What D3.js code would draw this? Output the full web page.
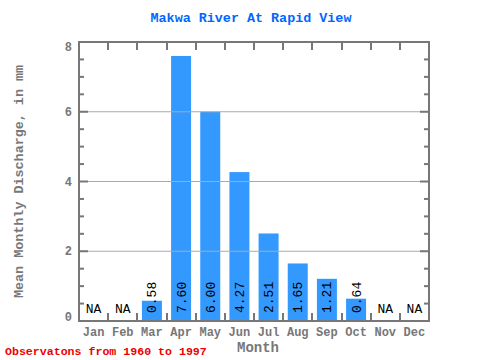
<!DOCTYPE html>
<html><head><meta charset="utf-8">
<script src="https://cdn.jsdelivr.net/npm/d3@7"></script>
<style>body{margin:0;background:#fff}svg{display:block}</style>
</head><body>
<svg id="c" width="480" height="360"></svg>
<script>
const months = ["Jan","Feb","Mar","Apr","May","Jun","Jul","Aug","Sep","Oct","Nov","Dec"];
const values = [null,null,0.58,7.60,6.00,4.27,2.51,1.65,1.21,0.64,null,null];
const labels = ["NA","NA","0.58","7.60","6.00","4.27","2.51","1.65","1.21","0.64","NA","NA"];
const yTicks = [0,2,4,6,8];
const title = "Makwa River At Rapid View";
const footer = "Observatons from 1960 to 1997";

const svg = d3.select("#c");
const L = 79, R = 429, T = 42, B = 321;
const font = "'Liberation Mono','DejaVu Sans Mono',monospace";
const x = d3.scaleBand().domain(months).range([L, R]);
const y = d3.scaleLinear().domain([0, 8]).range([B, T]);
const gray = "#777";

// bars
svg.append("g").selectAll("rect").data(months.map((m,i)=>({m,v:values[i]})).filter(d=>d.v!==null))
  .enter().append("rect")
  .attr("x", d => x(d.m) + x.bandwidth()/2 - 10)
  .attr("width", 20)
  .attr("y", d => y(d.v))
  .attr("height", d => B - y(d.v))
  .attr("fill", "#3399ff");

// gridlines
svg.append("g").selectAll("line").data(yTicks.filter(t => t > 0 && t < 8)).enter().append("line")
  .attr("x1", L).attr("x2", R).attr("y1", d => y(d)).attr("y2", d => y(d))
  .attr("stroke", "#aaa").attr("stroke-width", 1);

// minor/major ticks on y (left & right, inward)
const minor = d3.range(0, 8.01, 0.5);
const tg = svg.append("g").attr("stroke", gray).attr("stroke-width", 2);
minor.forEach(t => {
  const len = (t % 2 === 0) ? 9 : 5;
  tg.append("line").attr("x1", L).attr("x2", L + len).attr("y1", y(t)).attr("y2", y(t));
  tg.append("line").attr("x1", R).attr("x2", R - len).attr("y1", y(t)).attr("y2", y(t));
});
// x ticks at month boundaries (top & bottom inward)
months.slice(1).forEach(m => {
  const xx = Math.round(x(m));
  tg.append("line").attr("x1", xx).attr("x2", xx).attr("y1", T).attr("y2", T + 8);
  tg.append("line").attr("x1", xx).attr("x2", xx).attr("y1", B).attr("y2", B - 8);
});
// frame
svg.append("rect").attr("x", L).attr("y", T).attr("width", R - L).attr("height", B - T)
  .attr("fill", "none").attr("stroke", gray).attr("stroke-width", 2);

// y tick labels
svg.append("g").selectAll("text").data(yTicks).enter().append("text")
  .attr("x", 72).attr("y", d => y(d) + 4 + (d === 8 ? 5 : d === 0 ? -4 : 0)).attr("text-anchor", "end")
  .attr("font-family", font).attr("font-size", 12).attr("font-weight", "bold")
  .attr("fill", gray).text(d => d);

// x tick labels
svg.append("g").selectAll("text").data(months).enter().append("text")
  .attr("x", d => x(d) + x.bandwidth()/2).attr("y", 336).attr("text-anchor", "middle")
  .attr("font-family", font).attr("font-size", 12).attr("font-weight", "bold")
  .attr("fill", gray).text(d => d);

// value labels
months.forEach((m, i) => {
  const cx = x(m) + x.bandwidth()/2;
  if (values[i] === null) {
    svg.append("text").attr("x", cx).attr("y", 313).attr("text-anchor", "middle")
      .attr("font-family", font).attr("font-size", 13).attr("fill", "#000").text(labels[i]);
  } else {
    svg.append("text").attr("transform", `translate(${cx + 4.5},313) rotate(-90)`)
      .attr("text-anchor", "start")
      .attr("font-family", font).attr("font-size", 13).attr("fill", "#000").text(labels[i]);
  }
});

// title
svg.append("text").attr("x", 251).attr("y", 22).attr("text-anchor", "middle")
  .attr("font-family", font).attr("font-size", 13.4).attr("font-weight", "bold")
  .attr("fill", "#0066ff").text(title);

// axis titles
svg.append("text").attr("x", 258).attr("y", 352).attr("text-anchor", "middle")
  .attr("font-family", font).attr("font-size", 14).attr("font-weight", "bold")
  .attr("fill", gray).text("Month");
svg.append("text").attr("transform", `translate(23,${(T + B)/2}) rotate(-90)`).attr("text-anchor", "middle")
  .attr("font-family", font).attr("font-size", 13.4).attr("font-weight", "bold")
  .attr("fill", gray).text("Mean Monthly Discharge, in mm");

// footer
svg.append("text").attr("x", 5).attr("y", 355)
  .attr("font-family", font).attr("font-size", 11.6).attr("font-weight", "bold")
  .attr("fill", "#ee0000").text(footer);
</script>
</body></html>
